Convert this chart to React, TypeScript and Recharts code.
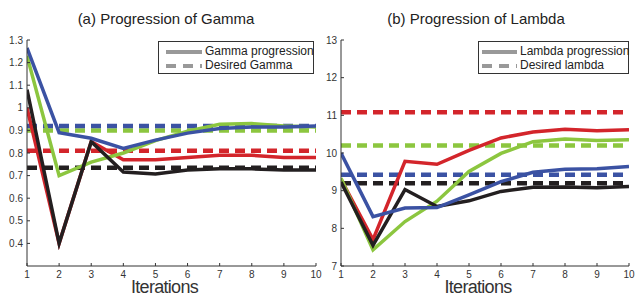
import React from 'react';
import { LineChart, Line, XAxis, YAxis, ReferenceLine } from 'recharts';

const iterations = [1, 2, 3, 4, 5, 6, 7, 8, 9, 10];

const gammaRed = [1.0, 0.4, 0.85, 0.77, 0.77, 0.78, 0.79, 0.79, 0.78, 0.78];
const gammaGreen = [1.23, 0.7, 0.76, 0.8, 0.855, 0.897, 0.927, 0.93, 0.92, 0.915];
const gammaBlack = [1.08, 0.4, 0.85, 0.716, 0.707, 0.725, 0.73, 0.73, 0.725, 0.725];
const gammaBlue = [1.265, 0.89, 0.865, 0.82, 0.857, 0.888, 0.908, 0.915, 0.915, 0.92];
const desiredGamma = { red: 0.81, green: 0.9, black: 0.735, blue: 0.92 };

const lambdaRed = [9.3, 7.7, 9.78, 9.7, 10.07, 10.4, 10.56, 10.63, 10.59, 10.62];
const lambdaGreen = [9.33, 7.43, 8.18, 8.72, 9.51, 9.99, 10.3, 10.37, 10.33, 10.35];
const lambdaBlack = [9.23, 7.55, 9.03, 8.58, 8.73, 8.98, 9.09, 9.1, 9.08, 9.11];
const lambdaBlue = [10.0, 8.31, 8.54, 8.55, 8.89, 9.24, 9.49, 9.57, 9.58, 9.64];
const desiredLambda = { red: 11.08, green: 10.2, black: 9.2, blue: 9.42 };

const gammaTicks = [0.4, 0.5, 0.6, 0.7, 0.8, 0.9, 1.0, 1.1, 1.2, 1.3];
const lambdaTicks = [7, 8, 9, 10, 11, 12, 13];

const COLORS = { red: '#d3252b', green: '#8cc63f', black: '#231f20', blue: '#3b52a3' };
const ORDER: Array<keyof typeof COLORS> = ['red', 'green', 'black', 'blue'];

const gammaData = iterations.map((it, i) => ({
  it, red: gammaRed[i], green: gammaGreen[i], black: gammaBlack[i], blue: gammaBlue[i],
}));
const lambdaData = iterations.map((it, i) => ({
  it, red: lambdaRed[i], green: lambdaGreen[i], black: lambdaBlack[i], blue: lambdaBlue[i],
}));

const FONT = '"Liberation Sans", Arial, Helvetica, sans-serif';
const tickStyle = { fontSize: 10, fill: '#333', fontFamily: FONT };
const fmt = (v: number) => String(Math.round(v * 10) / 10);

function Panel(props: {
  data: any[];
  desired: Record<string, number>;
  domain: [number, number];
  ticks: number[];
  margin: { top: number; right: number; left: number; bottom: number };
}) {
  const { data, desired, domain, ticks, margin } = props;
  return (
    <LineChart width={636} height={293} data={data} margin={margin}>
      <XAxis
        dataKey="it"
        type="number"
        domain={[1, 10]}
        ticks={iterations}
        tickSize={-3}
        tickMargin={8}
        height={27}
        stroke="#333"
        tick={tickStyle}
        interval={0}
        allowDataOverflow
        label={{
          value: 'Iterations',
          position: 'insideBottom',
          offset: 0,
          dx: -7,
          style: { fontSize: 18, fill: '#333', fontFamily: FONT, letterSpacing: '-0.7px' },
        }}
      />
      <YAxis
        type="number"
        domain={domain}
        ticks={ticks}
        tickSize={-3}
        tickMargin={7}
        width={27}
        stroke="#333"
        tick={tickStyle}
        tickFormatter={fmt}
        interval={0}
        allowDataOverflow
      />
      {ORDER.map((k) => (
        <ReferenceLine
          key={'d' + k}
          y={desired[k]}
          stroke={COLORS[k]}
          strokeWidth={4.5}
          strokeDasharray="10 6"
        />
      ))}
      {ORDER.map((k) => (
        <Line
          key={k}
          type="linear"
          dataKey={k}
          stroke={COLORS[k]}
          strokeWidth={3.5}
          dot={false}
          isAnimationActive={false}
          strokeLinejoin="miter"
        />
      ))}
    </LineChart>
  );
}

function LegendBox(props: {
  left: number;
  width: number;
  sampleLeft: number;
  sampleLen: number;
  textLeft: number;
  solid: string;
  dashed: string;
}) {
  const { left, width, sampleLeft, sampleLen, textLeft, solid, dashed } = props;
  return (
    <div
      style={{
        position: 'absolute',
        left,
        top: 41,
        width,
        height: 33,
        border: '1px solid #333',
        background: '#fff',
        boxSizing: 'border-box',
        fontFamily: FONT,
        fontSize: 12,
        color: '#222',
      }}
    >
      <svg width={sampleLen} height={31} style={{ position: 'absolute', left: sampleLeft, top: 0 }}>
        <line x1={0} x2={sampleLen} y1={10} y2={10} stroke="#999" strokeWidth={4} />
        <line x1={0} x2={sampleLen} y1={24} y2={24} stroke="#999" strokeWidth={4} strokeDasharray="10 7" />
      </svg>
      <div style={{ position: 'absolute', left: textLeft, top: 2, lineHeight: '15px', whiteSpace: 'nowrap' }}>{solid}</div>
      <div style={{ position: 'absolute', left: textLeft, top: 16, lineHeight: '15px', whiteSpace: 'nowrap' }}>{dashed}</div>
    </div>
  );
}

const titleStyle: React.CSSProperties = {
  position: 'absolute',
  top: 10,
  fontFamily: FONT,
  fontSize: 15,
  color: '#222',
  textAlign: 'center',
  width: 300,
  whiteSpace: 'nowrap',
};

export default function App() {
  return (
    <div style={{ position: 'absolute', left: 0, top: 0, width: 636, height: 293, background: '#fff', overflow: 'hidden' }}>
      <div style={{ position: 'absolute', left: 0, top: 0 }}>
        <Panel
          data={gammaData}
          desired={desiredGamma}
          domain={[0.3, 1.3]}
          ticks={gammaTicks}
          margin={{ top: 40, right: 320, left: 0, bottom: 0 }}
        />
      </div>
      <div style={{ position: 'absolute', left: 0, top: 0 }}>
        <Panel
          data={lambdaData}
          desired={desiredLambda}
          domain={[7, 13]}
          ticks={lambdaTicks}
          margin={{ top: 40, right: 7, left: 314, bottom: 0 }}
        />
      </div>
      <div style={{ ...titleStyle, left: 166 - 150 }}>(a) Progression of Gamma</div>
      <div style={{ ...titleStyle, left: 476 - 150 }}>(b) Progression of Lambda</div>
      <LegendBox left={158} width={156} sampleLeft={7} sampleLen={36} textLeft={46} solid="Gamma progression" dashed="Desired Gamma" />
      <LegendBox left={478} width={151} sampleLeft={3} sampleLen={35} textLeft={41} solid="Lambda progression" dashed="Desired lambda" />
    </div>
  );
}
